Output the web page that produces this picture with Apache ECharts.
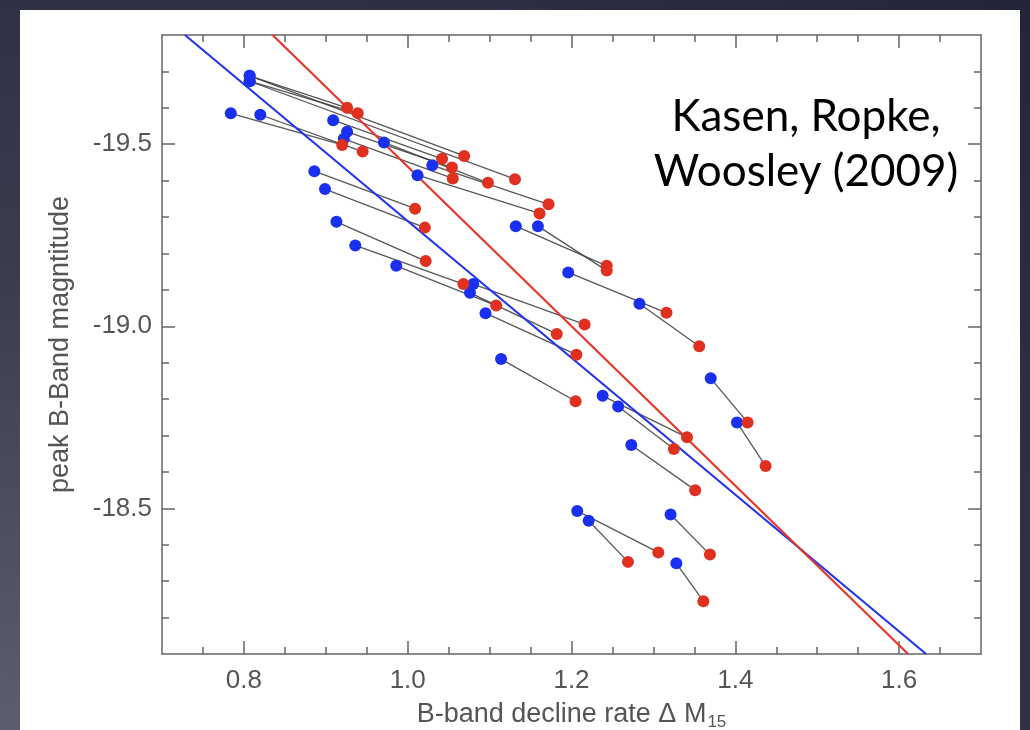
<!DOCTYPE html>
<html>
<head>
<meta charset="utf-8">
<script src="https://cdn.jsdelivr.net/npm/echarts@6/dist/echarts.min.js"></script>
<style>
  html, body { margin:0; padding:0; width:1030px; height:730px; overflow:hidden;
    background: radial-gradient(ellipse at 0% 100%, #5c5e70 0%, #3a3c4e 45%, #22243a 100%); }
  #panel { position:absolute; left:20px; top:10px; width:1000px; height:720px; background:#ffffff; }
  #chart { position:absolute; left:0; top:0; width:1030px; height:730px; }
</style>
</head>
<body>
<div id="panel"></div>
<div id="chart"></div>
<script>
// ---- axis ranges and tick labels ----
const xRange = [0.7, 1.7];
const yRange = [-19.8, -18.1];
const xMajorTicks = [0.8, 1.0, 1.2, 1.4, 1.6];
const xMinorTicks = [0.75, 0.85, 0.9, 0.95, 1.05, 1.1, 1.15, 1.25, 1.3, 1.35, 1.45, 1.5, 1.55, 1.65];
const yMajorTicks = [-19.5, -19.0, -18.5];
const yMinorTicks = [-19.7, -19.6, -19.4, -19.3, -19.2, -19.1, -18.9, -18.8, -18.7, -18.6, -18.4, -18.3, -18.2];

// ---- paired models: blue point i is joined to red point i ----
const blueX = [0.807, 0.807, 0.807, 0.807, 0.784, 0.820, 0.909, 0.926, 0.922, 0.971,
               1.030, 1.012, 0.886, 0.899, 0.913, 0.936, 0.986, 1.132, 1.159, 1.196,
               1.283, 1.080, 1.076, 1.095, 1.114, 1.238, 1.257, 1.370, 1.402, 1.273,
               1.207, 1.221, 1.321, 1.328];
const blueY = [-19.688, -19.673, -19.688, -19.673, -19.585, -19.581, -19.566, -19.534, -19.515, -19.505,
               -19.442, -19.415, -19.426, -19.377, -19.287, -19.222, -19.166, -19.275, -19.275, -19.148,
               -19.062, -19.116, -19.092, -19.036, -18.910, -18.809, -18.780, -18.857, -18.736, -18.674,
               -18.493, -18.466, -18.483, -18.349];
const redX  = [0.926, 0.939, 1.069, 1.131, 0.920, 0.945, 1.042, 1.054, 1.055, 1.098,
               1.172, 1.161, 1.009, 1.021, 1.022, 1.068, 1.108, 1.243, 1.243, 1.316,
               1.356, 1.216, 1.182, 1.206, 1.205, 1.341, 1.325, 1.415, 1.437, 1.351,
               1.306, 1.269, 1.369, 1.361];
const redY  = [-19.600, -19.585, -19.468, -19.404, -19.498, -19.480, -19.460, -19.436, -19.406, -19.394,
               -19.335, -19.310, -19.323, -19.271, -19.179, -19.116, -19.057, -19.166, -19.153, -19.037,
               -18.945, -19.005, -18.979, -18.922, -18.794, -18.695, -18.663, -18.736, -18.616, -18.550,
               -18.379, -18.353, -18.373, -18.245];

// ---- fitted relations (end points) ----
const blueFitX = [0.728, 1.633];
const blueFitY = [-19.8, -18.1];
const redFitX  = [0.835, 1.611];
const redFitY  = [-19.8, -18.1];

const AXIS_COLOR = '#666666';
const LABEL_COLOR = '#555555';
const FONT = '"Liberation Sans", Arial, Helvetica, sans-serif';

function xAxisDef(position, ticks, len, withLabels, withLine, name) {
  const a = {
    type: 'value', min: xRange[0], max: xRange[1], position: position,
    splitLine: { show: false },
    axisLine: { show: withLine, onZero: false, lineStyle: { color: AXIS_COLOR, width: 1.5 } },
    axisTick: { show: true, inside: true, length: len, customValues: ticks,
                lineStyle: { color: AXIS_COLOR, width: 1.5 } },
    axisLabel: withLabels ? { show: true, customValues: ticks, margin: 14,
                formatter: v => Number(v).toFixed(1),
                color: LABEL_COLOR, fontSize: 26, fontFamily: FONT } : { show: false }
  };
  if (name) {
    a.name = name;
    a.nameLocation = 'middle';
    a.nameGap = 35;
    a.nameTextStyle = {
      color: LABEL_COLOR, fontFamily: FONT,
      rich: {
        a: { fontSize: 27, color: LABEL_COLOR, fontFamily: FONT, lineHeight: 34 },
        s: { fontSize: 17, color: LABEL_COLOR, fontFamily: FONT, lineHeight: 17, padding: [15, 0, 0, 1] }
      }
    };
  }
  return a;
}
function yAxisDef(position, ticks, len, withLabels, withLine, name) {
  const a = {
    type: 'value', min: yRange[0], max: yRange[1], inverse: true, position: position,
    splitLine: { show: false },
    axisLine: { show: withLine, onZero: false, lineStyle: { color: AXIS_COLOR, width: 1.5 } },
    axisTick: { show: true, inside: true, length: len, customValues: ticks,
                lineStyle: { color: AXIS_COLOR, width: 1.5 } },
    axisLabel: withLabels ? { show: true, customValues: ticks, margin: 10,
                formatter: v => Number(v).toFixed(1),
                color: LABEL_COLOR, fontSize: 26, fontFamily: FONT } : { show: false }
  };
  if (name) {
    a.name = name;
    a.nameLocation = 'middle';
    a.nameGap = 88;
    a.nameTextStyle = { color: LABEL_COLOR, fontSize: 27, fontFamily: FONT };
  }
  return a;
}

const pairs = blueX.map((_, i) => ({ coords: [[blueX[i], blueY[i]], [redX[i], redY[i]]] }));

const chart = echarts.init(document.getElementById('chart'), null, { renderer: 'canvas' });
chart.setOption({
  backgroundColor: 'transparent',
  animation: false,
  grid: { left: 162, top: 35, right: 49, bottom: 76, containLabel: false, outerBoundsMode: 'none' },
  xAxis: [
    xAxisDef('bottom', xMajorTicks, 13, true, true, '{a|B-band decline rate Δ M}{s|15}'),
    xAxisDef('bottom', xMinorTicks, 7, false, false),
    xAxisDef('top', xMajorTicks, 13, false, true),
    xAxisDef('top', xMinorTicks, 7, false, false)
  ],
  yAxis: [
    yAxisDef('left', yMajorTicks, 13, true, true, 'peak B-Band magntitude'),
    yAxisDef('left', yMinorTicks, 7, false, false),
    yAxisDef('right', yMajorTicks, 13, false, true),
    yAxisDef('right', yMinorTicks, 7, false, false)
  ],
  series: [
    {
      type: 'lines', coordinateSystem: 'cartesian2d', xAxisIndex: 0, yAxisIndex: 0,
      polyline: false, silent: true, z: 1,
      lineStyle: { color: '#3a3a3a', width: 1.3, opacity: 0.85 },
      data: pairs
    },
    {
      type: 'line', xAxisIndex: 0, yAxisIndex: 0, symbol: 'none', z: 2, silent: true,
      lineStyle: { color: '#2236f0', width: 2.2 },
      data: blueFitX.map((x, i) => [x, blueFitY[i]])
    },
    {
      type: 'line', xAxisIndex: 0, yAxisIndex: 0, symbol: 'none', z: 2, silent: true,
      lineStyle: { color: '#e5372a', width: 2.2 },
      data: redFitX.map((x, i) => [x, redFitY[i]])
    },
    {
      type: 'scatter', xAxisIndex: 0, yAxisIndex: 0, symbolSize: 12, z: 3,
      itemStyle: { color: '#1a30f0', opacity: 1 },
      data: blueX.map((x, i) => [x, blueY[i]])
    },
    {
      type: 'scatter', xAxisIndex: 0, yAxisIndex: 0, symbolSize: 12, z: 3,
      itemStyle: { color: '#e0301f', opacity: 1 },
      data: redX.map((x, i) => [x, redY[i]])
    }
  ],
  graphic: [
    { type: 'text', x: 806, y: 117, z: 10,
      style: { text: 'Kasen, Ropke,', x: 0, y: 0, fill: '#000000', font: '44px Lato, "Open Sans", sans-serif',
               textAlign: 'center', textVerticalAlign: 'middle' } },
    { type: 'text', x: 806, y: 172, z: 10,
      style: { text: 'Woosley (2009)', x: 0, y: 0, fill: '#000000', font: '44px Lato, "Open Sans", sans-serif',
               textAlign: 'center', textVerticalAlign: 'middle' } }
  ]
});
</script>
</body>
</html>
